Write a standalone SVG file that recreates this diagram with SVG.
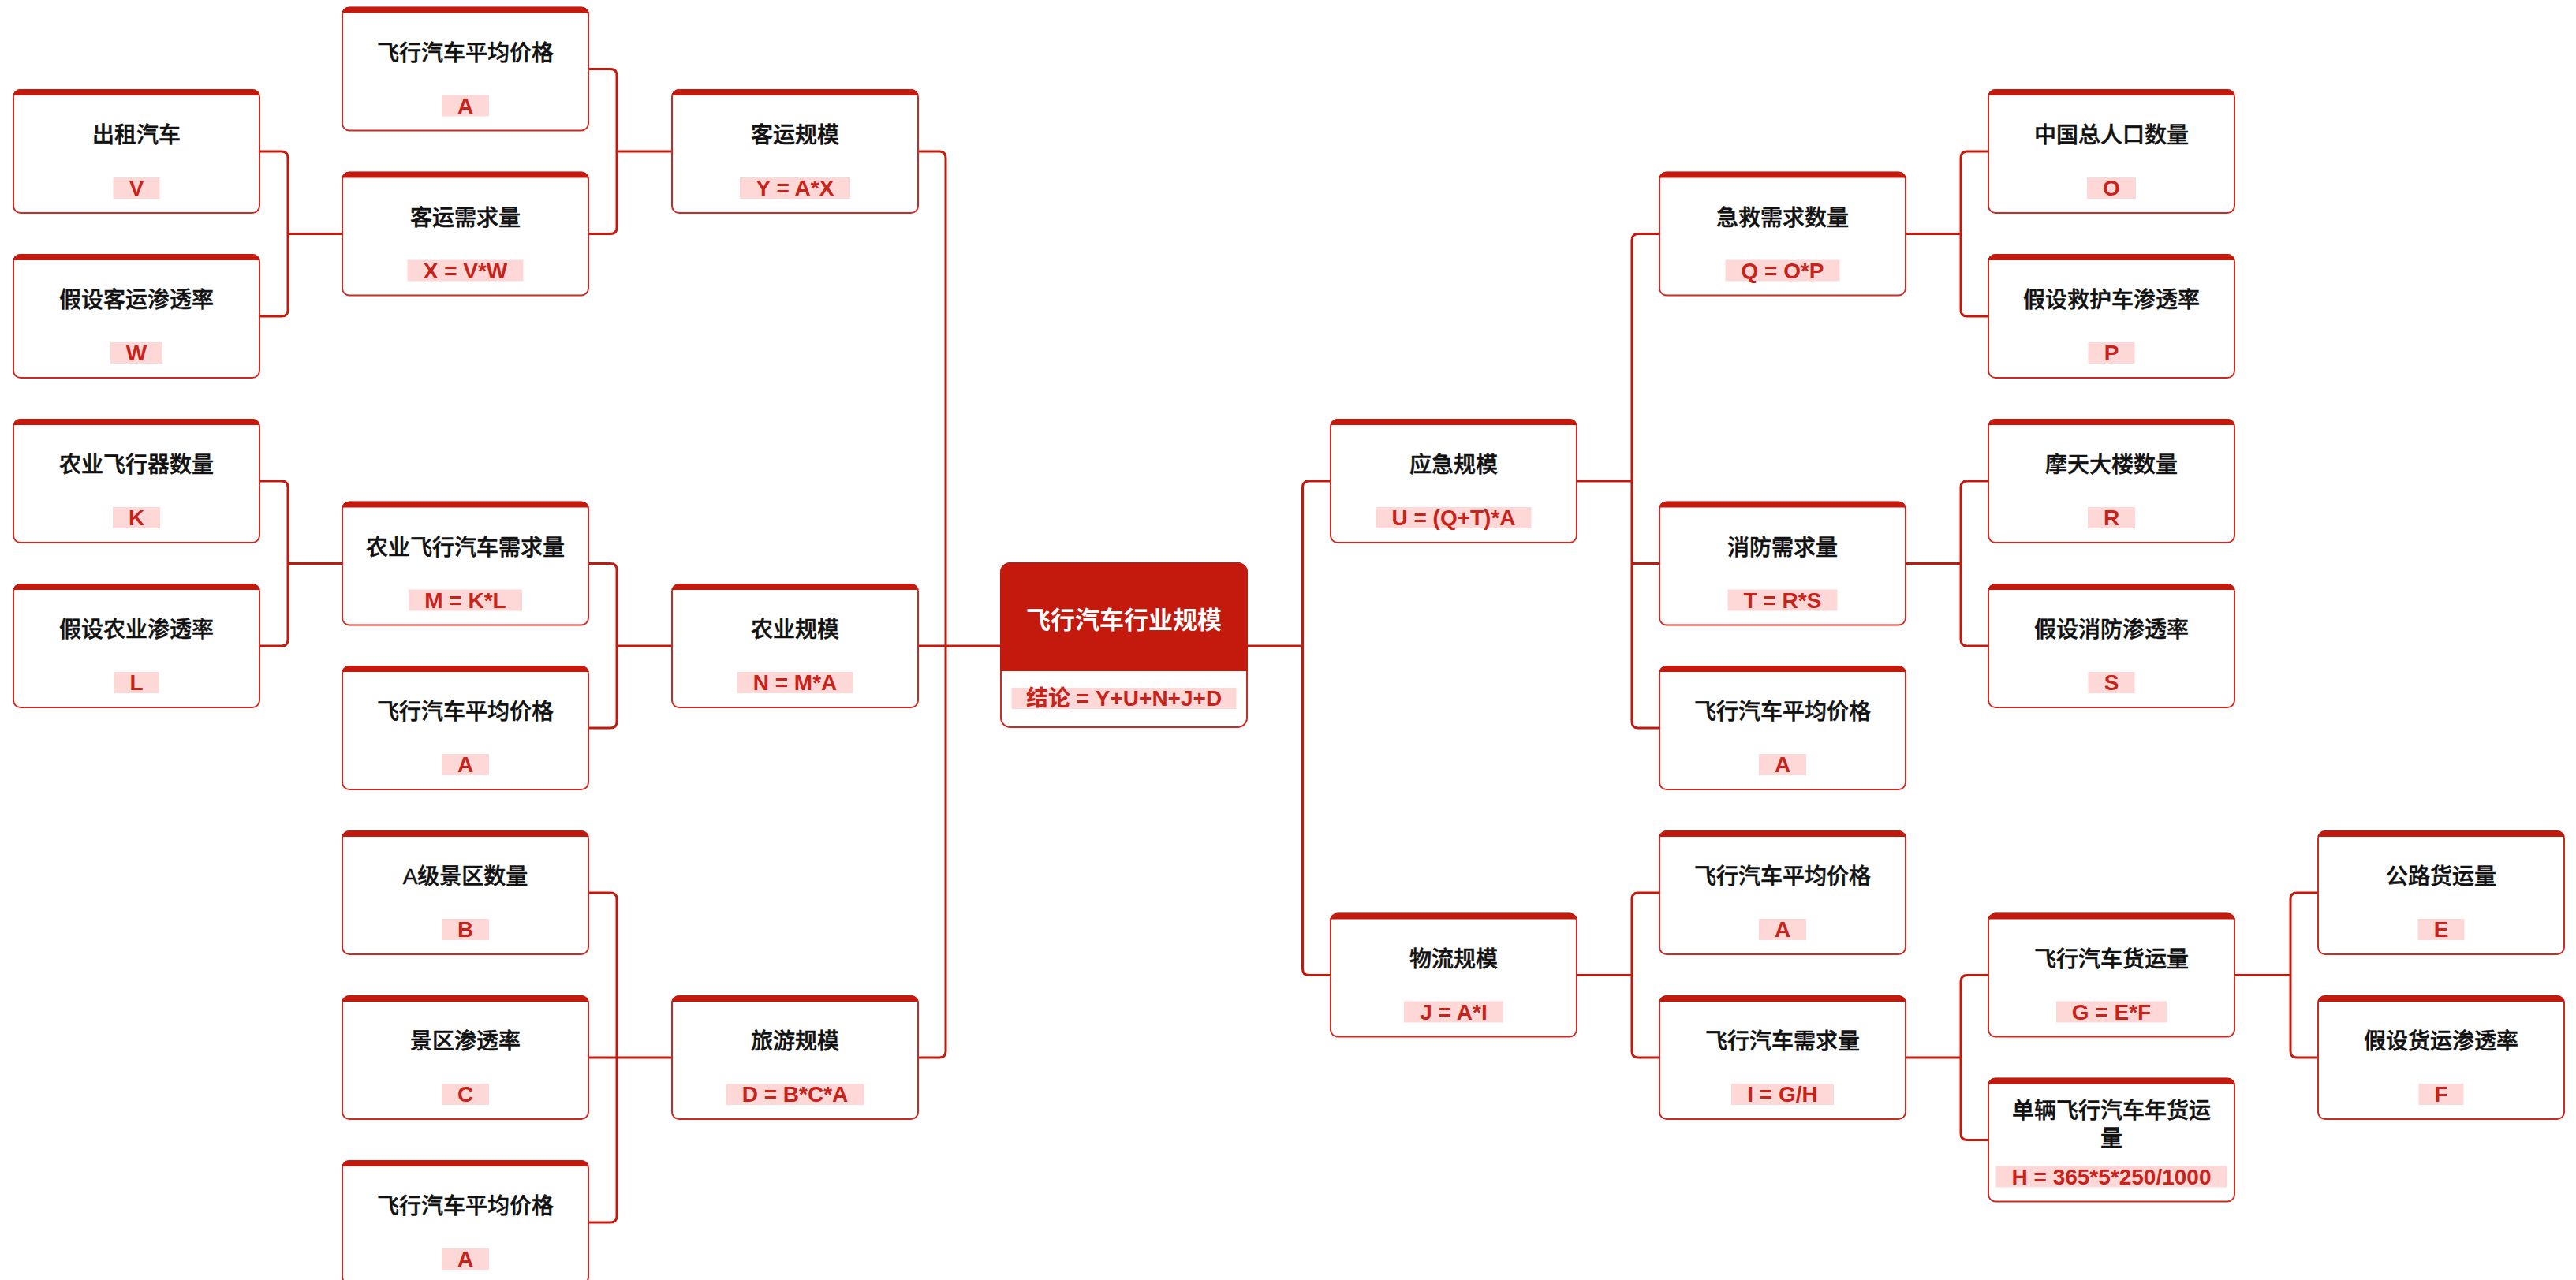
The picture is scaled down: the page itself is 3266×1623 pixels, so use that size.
<svg xmlns="http://www.w3.org/2000/svg" width="3266" height="1623" viewBox="0 0 3266 1623">
<style>
.nb{fill:#fff;stroke:#cc2b22;stroke-width:2}
.bar{fill:#c41a0e}
.t{font-family:"Liberation Sans","Noto Sans CJK SC",sans-serif;font-size:28px;font-weight:500;fill:#111;stroke:#111;stroke-width:0.5;text-anchor:middle;dominant-baseline:central}
.f{font-family:"Liberation Sans","Noto Sans CJK SC",sans-serif;font-size:28px;font-weight:bold;fill:#c8231a;text-anchor:middle}
.lb{fill:#fdd8d6}
.rt{font-family:"Noto Sans CJK SC",sans-serif;font-size:31px;font-weight:bold;fill:#fff;text-anchor:middle;dominant-baseline:central}
.c{fill:none;stroke:#c41a0e;stroke-width:3;stroke-linejoin:round}
</style>
<defs>
<clipPath id="cp"><rect x="-1" y="-1" width="314" height="158" rx="10"/></clipPath>
</defs>
<rect width="3266" height="1623" fill="#fff"/>

<g id="connectors">
<path class="c" d="M746,87.5 H774 Q782,87.5 782,95.5 V192 H852 M746,296.5 H774 Q782,296.5 782,288.5 V192"/>
<path class="c" d="M329,192 H357 Q365,192 365,200 V296.5 H434 M329,401 H357 Q365,401 365,393 V296.5"/>
<path class="c" d="M746,714.5 H774 Q782,714.5 782,722.5 V819 H852 M746,923 H774 Q782,923 782,915 V819"/>
<path class="c" d="M329,610 H357 Q365,610 365,618 V714.5 H434 M329,819 H357 Q365,819 365,811 V714.5"/>
<path class="c" d="M746,1132 H774 Q782,1132 782,1140 V1542 Q782,1550 774,1550 H746 M746,1341 H852"/>
<path class="c" d="M1164,192 H1191 Q1199,192 1199,200 V1333 Q1199,1341 1191,1341 H1164 M1164,819 H1269"/>
<path class="c" d="M1581,819 H1651.5 M1687,610 H1659.5 Q1651.5,610 1651.5,618 V1228.5 Q1651.5,1236.5 1659.5,1236.5 H1687"/>
<path class="c" d="M1999,610 H2069 M2104,296.5 H2077 Q2069,296.5 2069,304.5 V915 Q2069,923 2077,923 H2104 M2069,714.5 H2104"/>
<path class="c" d="M2416,296.5 H2486 M2521,192 H2494 Q2486,192 2486,200 V393 Q2486,401 2494,401 H2521"/>
<path class="c" d="M2416,714.5 H2486 M2521,610 H2494 Q2486,610 2486,618 V811 Q2486,819 2494,819 H2521"/>
<path class="c" d="M1999,1236.5 H2069 M2104,1132 H2077 Q2069,1132 2069,1140 V1333 Q2069,1341 2077,1341 H2104"/>
<path class="c" d="M2416,1341 H2486 M2521,1236.5 H2494 Q2486,1236.5 2486,1244.5 V1437.5 Q2486,1445.5 2494,1445.5 H2521"/>
<path class="c" d="M2833,1236.5 H2904 M2939,1132 H2912 Q2904,1132 2904,1140 V1333 Q2904,1341 2912,1341 H2939"/>
</g>

<g id="root" transform="translate(1269,714)">
<rect class="nb" width="312" height="208" rx="12"/>
<path class="bar" d="M-1,137 V12 A13,13 0 0 1 12,-1 H300 A13,13 0 0 1 313,12 V137 Z"/>
<text class="rt" x="156" y="69">飞行汽车行业规模</text>
<rect class="lb" x="13.5" y="158" width="285" height="27"/>
<text class="f" x="156" y="181">结论 = Y+U+N+J+D</text>
</g>

<g id="L-price1" transform="translate(434,9.5)">
<rect class="nb" width="312" height="156" rx="9"/><rect class="bar" x="-1" y="-1" width="314" height="8" clip-path="url(#cp)"/>
<text class="t" x="156" y="57.5">飞行汽车平均价格</text>
<rect class="lb" x="126" y="111" width="60" height="27"/><text class="f" x="156" y="134">A</text>
</g>
<g id="L-taxi" transform="translate(17,114)">
<rect class="nb" width="312" height="156" rx="9"/><rect class="bar" x="-1" y="-1" width="314" height="8" clip-path="url(#cp)"/>
<text class="t" x="156" y="57.5">出租汽车</text>
<rect class="lb" x="126.5" y="111" width="59" height="27"/><text class="f" x="156" y="134">V</text>
</g>
<g id="L-passenger" transform="translate(852,114)">
<rect class="nb" width="312" height="156" rx="9"/><rect class="bar" x="-1" y="-1" width="314" height="8" clip-path="url(#cp)"/>
<text class="t" x="156" y="57.5">客运规模</text>
<rect class="lb" x="86" y="111" width="140" height="27"/><text class="f" x="156" y="134">Y = A*X</text>
</g>
<g id="L-pdemand" transform="translate(434,218.5)">
<rect class="nb" width="312" height="156" rx="9"/><rect class="bar" x="-1" y="-1" width="314" height="8" clip-path="url(#cp)"/>
<text class="t" x="156" y="57.5">客运需求量</text>
<rect class="lb" x="82.5" y="111" width="147" height="27"/><text class="f" x="156" y="134">X = V*W</text>
</g>
<g id="L-prate" transform="translate(17,323)">
<rect class="nb" width="312" height="156" rx="9"/><rect class="bar" x="-1" y="-1" width="314" height="8" clip-path="url(#cp)"/>
<text class="t" x="156" y="57.5">假设客运渗透率</text>
<rect class="lb" x="123" y="111" width="66" height="27"/><text class="f" x="156" y="134">W</text>
</g>
<g id="L-agcount" transform="translate(17,532)">
<rect class="nb" width="312" height="156" rx="9"/><rect class="bar" x="-1" y="-1" width="314" height="8" clip-path="url(#cp)"/>
<text class="t" x="156" y="57.5">农业飞行器数量</text>
<rect class="lb" x="126" y="111" width="60" height="27"/><text class="f" x="156" y="134">K</text>
</g>
<g id="L-agdemand" transform="translate(434,636.5)">
<rect class="nb" width="312" height="156" rx="9"/><rect class="bar" x="-1" y="-1" width="314" height="8" clip-path="url(#cp)"/>
<text class="t" x="156" y="57.5">农业飞行汽车需求量</text>
<rect class="lb" x="84" y="111" width="144" height="27"/><text class="f" x="156" y="134">M = K*L</text>
</g>
<g id="L-agrate" transform="translate(17,741)">
<rect class="nb" width="312" height="156" rx="9"/><rect class="bar" x="-1" y="-1" width="314" height="8" clip-path="url(#cp)"/>
<text class="t" x="156" y="57.5">假设农业渗透率</text>
<rect class="lb" x="127.5" y="111" width="57" height="27"/><text class="f" x="156" y="134">L</text>
</g>
<g id="L-agri" transform="translate(852,741)">
<rect class="nb" width="312" height="156" rx="9"/><rect class="bar" x="-1" y="-1" width="314" height="8" clip-path="url(#cp)"/>
<text class="t" x="156" y="57.5">农业规模</text>
<rect class="lb" x="82.5" y="111" width="147" height="27"/><text class="f" x="156" y="134">N = M*A</text>
</g>
<g id="L-price2" transform="translate(434,845)">
<rect class="nb" width="312" height="156" rx="9"/><rect class="bar" x="-1" y="-1" width="314" height="8" clip-path="url(#cp)"/>
<text class="t" x="156" y="57.5">飞行汽车平均价格</text>
<rect class="lb" x="126" y="111" width="60" height="27"/><text class="f" x="156" y="134">A</text>
</g>
<g id="L-scenic" transform="translate(434,1054)">
<rect class="nb" width="312" height="156" rx="9"/><rect class="bar" x="-1" y="-1" width="314" height="8" clip-path="url(#cp)"/>
<text class="t" x="156" y="57.5">A级景区数量</text>
<rect class="lb" x="126" y="111" width="60" height="27"/><text class="f" x="156" y="134">B</text>
</g>
<g id="L-scrate" transform="translate(434,1263)">
<rect class="nb" width="312" height="156" rx="9"/><rect class="bar" x="-1" y="-1" width="314" height="8" clip-path="url(#cp)"/>
<text class="t" x="156" y="57.5">景区渗透率</text>
<rect class="lb" x="126" y="111" width="60" height="27"/><text class="f" x="156" y="134">C</text>
</g>
<g id="L-tour" transform="translate(852,1263)">
<rect class="nb" width="312" height="156" rx="9"/><rect class="bar" x="-1" y="-1" width="314" height="8" clip-path="url(#cp)"/>
<text class="t" x="156" y="57.5">旅游规模</text>
<rect class="lb" x="68.5" y="111" width="175" height="27"/><text class="f" x="156" y="134">D = B*C*A</text>
</g>
<g id="L-price3" transform="translate(434,1472)">
<rect class="nb" width="312" height="156" rx="9"/><rect class="bar" x="-1" y="-1" width="314" height="8" clip-path="url(#cp)"/>
<text class="t" x="156" y="57.5">飞行汽车平均价格</text>
<rect class="lb" x="126" y="111" width="60" height="27"/><text class="f" x="156" y="134">A</text>
</g>

<g id="R-emerg" transform="translate(1687,532)">
<rect class="nb" width="312" height="156" rx="9"/><rect class="bar" x="-1" y="-1" width="314" height="8" clip-path="url(#cp)"/>
<text class="t" x="156" y="57.5">应急规模</text>
<rect class="lb" x="57.5" y="111" width="197" height="27"/><text class="f" x="156" y="134">U = (Q+T)*A</text>
</g>
<g id="R-logi" transform="translate(1687,1158.5)">
<rect class="nb" width="312" height="156" rx="9"/><rect class="bar" x="-1" y="-1" width="314" height="8" clip-path="url(#cp)"/>
<text class="t" x="156" y="57.5">物流规模</text>
<rect class="lb" x="93" y="111" width="126" height="27"/><text class="f" x="156" y="134">J = A*I</text>
</g>
<g id="R-ambul" transform="translate(2104,218.5)">
<rect class="nb" width="312" height="156" rx="9"/><rect class="bar" x="-1" y="-1" width="314" height="8" clip-path="url(#cp)"/>
<text class="t" x="156" y="57.5">急救需求数量</text>
<rect class="lb" x="83.5" y="111" width="145" height="27"/><text class="f" x="156" y="134">Q = O*P</text>
</g>
<g id="R-fire" transform="translate(2104,636.5)">
<rect class="nb" width="312" height="156" rx="9"/><rect class="bar" x="-1" y="-1" width="314" height="8" clip-path="url(#cp)"/>
<text class="t" x="156" y="57.5">消防需求量</text>
<rect class="lb" x="86.5" y="111" width="139" height="27"/><text class="f" x="156" y="134">T = R*S</text>
</g>
<g id="R-price1" transform="translate(2104,845)">
<rect class="nb" width="312" height="156" rx="9"/><rect class="bar" x="-1" y="-1" width="314" height="8" clip-path="url(#cp)"/>
<text class="t" x="156" y="57.5">飞行汽车平均价格</text>
<rect class="lb" x="126" y="111" width="60" height="27"/><text class="f" x="156" y="134">A</text>
</g>
<g id="R-price2" transform="translate(2104,1054)">
<rect class="nb" width="312" height="156" rx="9"/><rect class="bar" x="-1" y="-1" width="314" height="8" clip-path="url(#cp)"/>
<text class="t" x="156" y="57.5">飞行汽车平均价格</text>
<rect class="lb" x="126" y="111" width="60" height="27"/><text class="f" x="156" y="134">A</text>
</g>
<g id="R-vdemand" transform="translate(2104,1263)">
<rect class="nb" width="312" height="156" rx="9"/><rect class="bar" x="-1" y="-1" width="314" height="8" clip-path="url(#cp)"/>
<text class="t" x="156" y="57.5">飞行汽车需求量</text>
<rect class="lb" x="91" y="111" width="130" height="27"/><text class="f" x="156" y="134">I = G/H</text>
</g>
<g id="R-pop" transform="translate(2521,114)">
<rect class="nb" width="312" height="156" rx="9"/><rect class="bar" x="-1" y="-1" width="314" height="8" clip-path="url(#cp)"/>
<text class="t" x="156" y="57.5">中国总人口数量</text>
<rect class="lb" x="125" y="111" width="62" height="27"/><text class="f" x="156" y="134">O</text>
</g>
<g id="R-amrate" transform="translate(2521,323)">
<rect class="nb" width="312" height="156" rx="9"/><rect class="bar" x="-1" y="-1" width="314" height="8" clip-path="url(#cp)"/>
<text class="t" x="156" y="57.5">假设救护车渗透率</text>
<rect class="lb" x="126.5" y="111" width="59" height="27"/><text class="f" x="156" y="134">P</text>
</g>
<g id="R-sky" transform="translate(2521,532)">
<rect class="nb" width="312" height="156" rx="9"/><rect class="bar" x="-1" y="-1" width="314" height="8" clip-path="url(#cp)"/>
<text class="t" x="156" y="57.5">摩天大楼数量</text>
<rect class="lb" x="126" y="111" width="60" height="27"/><text class="f" x="156" y="134">R</text>
</g>
<g id="R-firerate" transform="translate(2521,741)">
<rect class="nb" width="312" height="156" rx="9"/><rect class="bar" x="-1" y="-1" width="314" height="8" clip-path="url(#cp)"/>
<text class="t" x="156" y="57.5">假设消防渗透率</text>
<rect class="lb" x="126.5" y="111" width="59" height="27"/><text class="f" x="156" y="134">S</text>
</g>
<g id="R-freight" transform="translate(2521,1158.5)">
<rect class="nb" width="312" height="156" rx="9"/><rect class="bar" x="-1" y="-1" width="314" height="8" clip-path="url(#cp)"/>
<text class="t" x="156" y="57.5">飞行汽车货运量</text>
<rect class="lb" x="86" y="111" width="140" height="27"/><text class="f" x="156" y="134">G = E*F</text>
</g>
<g id="R-perveh" transform="translate(2521,1367.5)">
<rect class="nb" width="312" height="156" rx="9"/><rect class="bar" x="-1" y="-1" width="314" height="8" clip-path="url(#cp)"/>
<text class="t" x="156" y="40.5">单辆飞行汽车年货运</text>
<text class="t" x="156" y="76">量</text>
<rect class="lb" x="9.5" y="111" width="293" height="27"/><text class="f" x="156" y="134">H = 365*5*250/1000</text>
</g>
<g id="R-road" transform="translate(2939,1054)">
<rect class="nb" width="312" height="156" rx="9"/><rect class="bar" x="-1" y="-1" width="314" height="8" clip-path="url(#cp)"/>
<text class="t" x="156" y="57.5">公路货运量</text>
<rect class="lb" x="126.5" y="111" width="59" height="27"/><text class="f" x="156" y="134">E</text>
</g>
<g id="R-frrate" transform="translate(2939,1263)">
<rect class="nb" width="312" height="156" rx="9"/><rect class="bar" x="-1" y="-1" width="314" height="8" clip-path="url(#cp)"/>
<text class="t" x="156" y="57.5">假设货运渗透率</text>
<rect class="lb" x="127.5" y="111" width="57" height="27"/><text class="f" x="156" y="134">F</text>
</g>
</svg>
